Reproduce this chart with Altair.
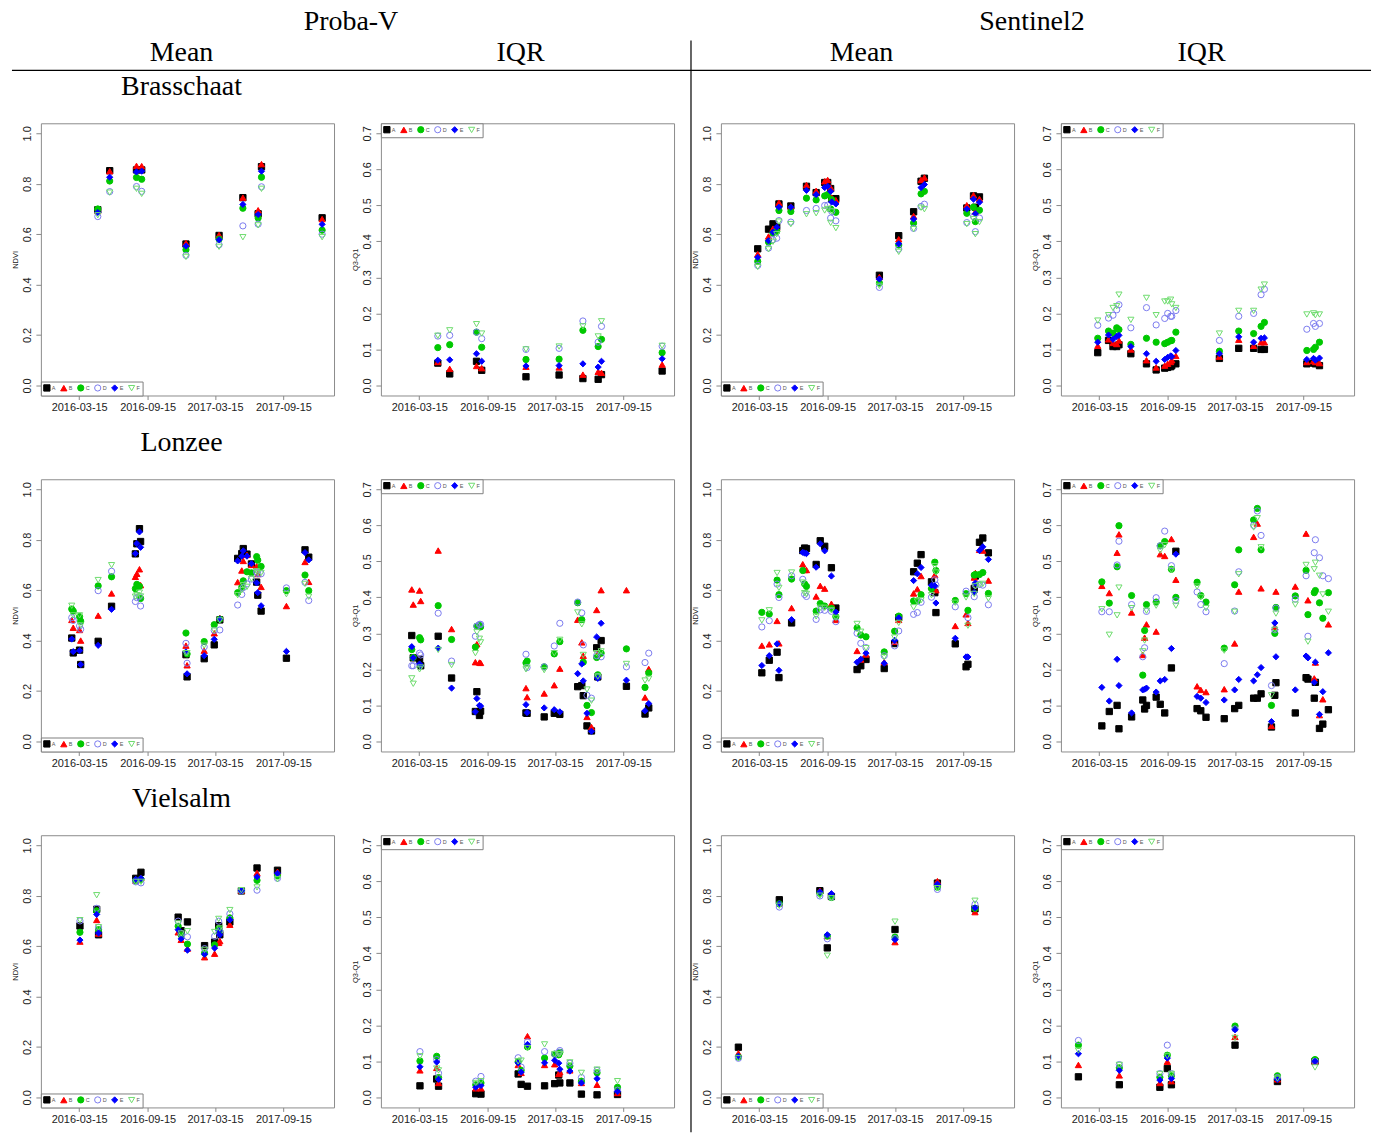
import altair as alt
import pandas as pd

# ---------------- series styling ----------------
SERIES = ["A", "B", "C", "D", "E", "F"]
STROKES = ["#000000", "#FF0000", "#00C800", "#7B7BEE", "#0000FF", "#6EDC6E"]
FILLS = ["#000000", "#FF0000", "#00C800", "transparent", "#0000FF", "transparent"]
SHAPES = ["square", "triangle-up", "circle", "circle", "diamond", "triangle-down"]
SIZES = [40, 38, 28, 36, 38, 50]

X_TICKS = ["2016-03-15", "2016-09-15", "2017-03-15", "2017-09-15"]
X_DOMAIN = ["2015-12-03", "2018-01-29"]
MEAN_TICKS = [0.0, 0.2, 0.4, 0.6, 0.8, 1.0]
IQR_TICKS = [0.0, 0.1, 0.2, 0.3, 0.4, 0.5, 0.6, 0.7]

# ---------------- Proba-V, Brasschaat ----------------
PV_BRA_DATES = ["2016-05-04", "2016-06-05", "2016-08-16", "2016-08-30", "2016-12-27",
                "2017-03-26", "2017-05-29", "2017-07-09", "2017-07-18", "2017-12-28"]
PV_BRA_MEAN = {
    "A": [0.697, 0.852, 0.855, 0.855, 0.561, 0.595, 0.745, 0.681, 0.868, 0.665],
    "B": [0.692, 0.850, 0.871, 0.870, 0.565, 0.597, 0.745, 0.695, 0.878, 0.660],
    "C": [0.700, 0.811, 0.825, 0.818, 0.538, 0.580, 0.703, 0.664, 0.826, 0.616],
    "D": [0.670, 0.769, 0.789, 0.770, 0.516, 0.558, 0.633, 0.640, 0.788, 0.600],
    "E": [0.686, 0.826, 0.847, 0.850, 0.553, 0.578, 0.718, 0.678, 0.850, 0.639],
    "F": [0.675, 0.765, 0.780, 0.760, 0.510, 0.550, 0.588, 0.635, 0.780, 0.588],
}
PV_BRA_IQR = {
    "A": [0.062, 0.032, 0.067, 0.042, 0.024, 0.029, 0.019, 0.017, 0.030, 0.040],
    "B": [0.065, 0.046, 0.054, 0.048, 0.052, 0.050, 0.030, 0.038, 0.035, 0.058],
    "C": [0.105, 0.113, 0.148, 0.106, 0.072, 0.073, 0.153, 0.108, 0.128, 0.091],
    "D": [0.137, 0.139, 0.148, 0.130, 0.100, 0.103, 0.179, 0.120, 0.164, 0.109],
    "E": [0.070, 0.071, 0.088, 0.067, 0.054, 0.055, 0.060, 0.051, 0.067, 0.074],
    "F": [0.138, 0.153, 0.170, 0.144, 0.100, 0.108, 0.164, 0.136, 0.178, 0.110],
}

# ---------------- Sentinel2, Brasschaat ----------------
S2_BRA_DATES = ["2016-03-11", "2016-04-09", "2016-04-21", "2016-05-01", "2016-05-07",
                "2016-06-08", "2016-07-20", "2016-08-15", "2016-09-07", "2016-09-15",
                "2016-09-23", "2016-09-26", "2016-10-07", "2017-02-01", "2017-03-25",
                "2017-05-04", "2017-05-24", "2017-06-02", "2017-09-24", "2017-10-12",
                "2017-10-17", "2017-10-28"]
S2_BRA_MEAN = {
    "A": [0.542, 0.620, 0.641, 0.630, 0.720, 0.712, 0.790, 0.765, 0.805, 0.805, 0.781,
          0.740, 0.741, 0.437, 0.594, 0.689, 0.810, 0.822, 0.704, 0.752, 0.707, 0.748],
    "B": [0.521, 0.591, 0.622, 0.625, 0.725, 0.710, 0.795, 0.772, 0.810, 0.815, 0.785,
          0.745, 0.735, 0.430, 0.580, 0.672, 0.815, 0.825, 0.715, 0.755, 0.690, 0.740],
    "C": [0.492, 0.569, 0.604, 0.611, 0.694, 0.690, 0.743, 0.736, 0.752, 0.757, 0.700,
          0.737, 0.687, 0.406, 0.557, 0.644, 0.760, 0.770, 0.683, 0.707, 0.650, 0.695],
    "D": [0.476, 0.545, 0.578, 0.584, 0.654, 0.648, 0.694, 0.702, 0.714, 0.715, 0.664,
          0.690, 0.653, 0.389, 0.541, 0.623, 0.710, 0.719, 0.646, 0.670, 0.610, 0.664],
    "E": [0.508, 0.574, 0.608, 0.628, 0.707, 0.707, 0.774, 0.757, 0.785, 0.790, 0.770,
          0.728, 0.720, 0.422, 0.562, 0.660, 0.785, 0.797, 0.700, 0.739, 0.681, 0.727],
    "F": [0.470, 0.540, 0.570, 0.600, 0.650, 0.640, 0.679, 0.683, 0.694, 0.700, 0.645,
          0.690, 0.624, 0.395, 0.530, 0.620, 0.705, 0.699, 0.640, 0.660, 0.600, 0.648],
}
S2_BRA_IQR = {
    "A": [0.091, 0.125, 0.108, 0.108, 0.113, 0.088, 0.060, 0.043, 0.048, 0.050, 0.052,
          0.055, 0.060, 0.075, 0.103, 0.103, 0.100, 0.100, 0.060, 0.062, 0.060, 0.055],
    "B": [0.110, 0.128, 0.118, 0.115, 0.125, 0.100, 0.070, 0.050, 0.055, 0.060, 0.065,
          0.070, 0.082, 0.080, 0.127, 0.110, 0.120, 0.120, 0.065, 0.068, 0.065, 0.062],
    "C": [0.131, 0.151, 0.145, 0.160, 0.155, 0.114, 0.131, 0.120, 0.116, 0.120, 0.124,
          0.125, 0.148, 0.095, 0.151, 0.144, 0.164, 0.175, 0.097, 0.100, 0.106, 0.120],
    "D": [0.167, 0.187, 0.195, 0.210, 0.224, 0.160, 0.216, 0.168, 0.186, 0.200, 0.192,
          0.192, 0.208, 0.125, 0.192, 0.200, 0.252, 0.267, 0.156, 0.172, 0.164, 0.172],
    "E": [0.120, 0.140, 0.128, 0.136, 0.139, 0.108, 0.088, 0.067, 0.072, 0.078, 0.082,
          0.080, 0.097, 0.088, 0.135, 0.120, 0.131, 0.132, 0.072, 0.075, 0.070, 0.076],
    "F": [0.180, 0.195, 0.215, 0.220, 0.252, 0.182, 0.243, 0.195, 0.233, 0.233, 0.238,
          0.225, 0.215, 0.144, 0.207, 0.207, 0.266, 0.280, 0.197, 0.200, 0.195, 0.197],
}

# ---------------- Proba-V, Lonzee ----------------
PV_LON_DATES = ["2016-02-24", "2016-02-28", "2016-03-16", "2016-03-19", "2016-05-05",
                "2016-06-10", "2016-08-13", "2016-08-17", "2016-08-24", "2016-08-27",
                "2016-12-27", "2016-12-30", "2017-02-14", "2017-03-13", "2017-03-28",
                "2017-05-15", "2017-05-26", "2017-05-30", "2017-06-09", "2017-06-21",
                "2017-07-05", "2017-07-08", "2017-07-17", "2017-09-23", "2017-11-12",
                "2017-11-22"]
PV_LON_MEAN = {
    "A": [0.410, 0.351, 0.362, 0.305, 0.397, 0.536, 0.744, 0.784, 0.844, 0.793, 0.344, 0.256, 0.328,
          0.383, 0.482, 0.726, 0.745, 0.765, 0.743, 0.704, 0.632, 0.580, 0.517, 0.330, 0.760, 0.731],
    "B": [0.482, 0.451, 0.442, 0.400, 0.499, 0.587, 0.653, 0.665, 0.683, 0.620, 0.380, 0.302, 0.360,
          0.429, 0.490, 0.632, 0.678, 0.716, 0.740, 0.700, 0.695, 0.664, 0.613, 0.537, 0.712, 0.633],
    "C": [0.525, 0.517, 0.495, 0.477, 0.617, 0.653, 0.606, 0.623, 0.615, 0.567, 0.430, 0.347, 0.396,
          0.463, 0.485, 0.590, 0.611, 0.637, 0.673, 0.669, 0.733, 0.719, 0.694, 0.598, 0.660, 0.598],
    "D": [0.491, 0.480, 0.458, 0.445, 0.598, 0.675, 0.555, 0.570, 0.575, 0.537, 0.389, 0.310, 0.375,
          0.440, 0.442, 0.541, 0.583, 0.610, 0.625, 0.644, 0.672, 0.665, 0.665, 0.609, 0.631, 0.559],
    "E": [0.406, 0.356, 0.360, 0.305, 0.381, 0.524, 0.745, 0.785, 0.831, 0.770, 0.355, 0.268, 0.340,
          0.405, 0.485, 0.716, 0.735, 0.756, 0.735, 0.705, 0.629, 0.590, 0.538, 0.357, 0.749, 0.720],
    "F": [0.538, 0.500, 0.500, 0.460, 0.640, 0.699, 0.574, 0.580, 0.590, 0.575, 0.350, 0.350, 0.380,
          0.440, 0.480, 0.580, 0.600, 0.620, 0.613, 0.645, 0.675, 0.668, 0.668, 0.584, 0.625, 0.574],
}
PV_LON_IQR = {
    "A": [0.294, 0.232, 0.228, 0.210, 0.292, 0.176, 0.083, 0.138, 0.072, 0.084, 0.079, 0.078, 0.068,
          0.078, 0.075, 0.152, 0.155, 0.127, 0.043, 0.029, 0.260, 0.179, 0.280, 0.153, 0.076, 0.093],
    "B": [0.422, 0.380, 0.419, 0.390, 0.530, 0.312, 0.220, 0.270, 0.219, 0.218, 0.148, 0.123, 0.133,
          0.156, 0.202, 0.338, 0.275, 0.238, 0.068, 0.040, 0.365, 0.242, 0.420, 0.420, 0.122, 0.201],
    "C": [0.255, 0.233, 0.288, 0.282, 0.377, 0.283, 0.262, 0.320, 0.322, 0.318, 0.218, 0.223, 0.207,
          0.243, 0.277, 0.385, 0.338, 0.220, 0.100, 0.080, 0.233, 0.185, 0.245, 0.257, 0.150, 0.190],
    "D": [0.210, 0.210, 0.245, 0.240, 0.356, 0.223, 0.292, 0.320, 0.325, 0.325, 0.242, 0.205, 0.207,
          0.265, 0.328, 0.387, 0.357, 0.268, 0.128, 0.120, 0.238, 0.180, 0.235, 0.207, 0.219, 0.245],
    "E": [0.263, 0.232, 0.215, 0.210, 0.259, 0.148, 0.082, 0.119, 0.100, 0.098, 0.102, 0.080, 0.093,
          0.088, 0.082, 0.188, 0.215, 0.168, 0.078, 0.028, 0.290, 0.175, 0.328, 0.170, 0.085, 0.105],
    "F": [0.175, 0.160, 0.200, 0.205, 0.254, 0.212, 0.245, 0.303, 0.285, 0.275, 0.200, 0.205, 0.198,
          0.245, 0.282, 0.358, 0.325, 0.240, 0.144, 0.113, 0.245, 0.180, 0.250, 0.215, 0.169, 0.174],
}

# ---------------- Sentinel2, Lonzee ----------------
S2_LON_DATES = ["2016-03-22", "2016-04-11", "2016-05-02", "2016-05-07", "2016-06-10",
                "2016-07-10", "2016-07-15", "2016-07-20", "2016-08-15", "2016-08-26",
                "2016-09-07", "2016-09-25", "2016-10-07", "2016-12-03", "2016-12-13",
                "2016-12-27", "2017-02-14", "2017-03-14", "2017-03-25", "2017-05-04",
                "2017-05-14", "2017-05-24", "2017-06-21", "2017-06-30", "2017-07-03",
                "2017-08-24", "2017-09-22", "2017-09-27", "2017-10-14", "2017-10-17",
                "2017-10-28", "2017-11-06", "2017-11-21"]
S2_LON_MEAN = {
    "A": [0.272, 0.322, 0.354, 0.253, 0.470, 0.757, 0.767, 0.765, 0.702, 0.796, 0.774,
          0.689, 0.529, 0.285, 0.300, 0.325, 0.289, 0.388, 0.491, 0.673, 0.707, 0.741,
          0.633, 0.590, 0.511, 0.387, 0.296, 0.306, 0.607, 0.656, 0.790, 0.807, 0.748],
    "B": [0.380, 0.385, 0.478, 0.389, 0.529, 0.703, 0.680, 0.680, 0.575, 0.617, 0.606,
          0.546, 0.482, 0.359, 0.325, 0.345, 0.315, 0.395, 0.482, 0.587, 0.604, 0.656,
          0.615, 0.660, 0.600, 0.458, 0.504, 0.470, 0.650, 0.668, 0.760, 0.757, 0.638],
    "C": [0.512, 0.505, 0.640, 0.582, 0.644, 0.678, 0.625, 0.615, 0.517, 0.547, 0.537,
          0.528, 0.495, 0.450, 0.422, 0.415, 0.355, 0.437, 0.497, 0.557, 0.557, 0.582,
          0.606, 0.711, 0.678, 0.559, 0.586, 0.520, 0.660, 0.662, 0.662, 0.670, 0.587],
    "D": [0.454, 0.479, 0.624, 0.571, 0.657, 0.643, 0.583, 0.575, 0.484, 0.522, 0.520,
          0.516, 0.475, 0.429, 0.389, 0.372, 0.340, 0.379, 0.438, 0.504, 0.511, 0.552,
          0.572, 0.641, 0.620, 0.534, 0.596, 0.491, 0.574, 0.620, 0.623, 0.620, 0.542],
    "E": [0.301, 0.340, 0.387, 0.282, 0.483, 0.750, 0.747, 0.745, 0.691, 0.784, 0.756,
          0.656, 0.513, 0.314, 0.326, 0.350, 0.310, 0.401, 0.490, 0.638, 0.665, 0.690,
          0.619, 0.617, 0.549, 0.409, 0.335, 0.335, 0.591, 0.628, 0.757, 0.772, 0.722],
    "F": [0.480, 0.520, 0.668, 0.609, 0.670, 0.630, 0.588, 0.585, 0.496, 0.530, 0.530,
          0.520, 0.490, 0.466, 0.435, 0.370, 0.335, 0.412, 0.470, 0.532, 0.555, 0.560,
          0.580, 0.695, 0.670, 0.550, 0.571, 0.459, 0.585, 0.615, 0.620, 0.625, 0.567],
}
S2_LON_IQR = {
    "A": [0.043, 0.083, 0.100, 0.035, 0.068, 0.115, 0.090, 0.100, 0.123, 0.103, 0.079,
          0.204, 0.528, 0.091, 0.085, 0.067, 0.063, 0.091, 0.100, 0.120, 0.120, 0.132,
          0.040, 0.128, 0.163, 0.079, 0.177, 0.173, 0.120, 0.164, 0.036, 0.048, 0.088],
    "B": [0.432, 0.412, 0.524, 0.575, 0.358, 0.240, 0.288, 0.325, 0.305, 0.520, 0.515,
          0.562, 0.449, 0.153, 0.143, 0.137, 0.145, 0.272, 0.416, 0.568, 0.605, 0.425,
          0.043, 0.318, 0.416, 0.430, 0.577, 0.392, 0.175, 0.219, 0.073, 0.117, 0.325],
    "C": [0.443, 0.384, 0.485, 0.599, 0.405, 0.184, 0.308, 0.380, 0.387, 0.543, 0.555,
          0.478, 0.400, 0.442, 0.405, 0.387, 0.259, 0.435, 0.532, 0.615, 0.647, 0.532,
          0.100, 0.300, 0.372, 0.404, 0.475, 0.352, 0.413, 0.419, 0.385, 0.342, 0.413],
    "D": [0.360, 0.360, 0.490, 0.556, 0.380, 0.235, 0.260, 0.361, 0.399, 0.543, 0.584,
          0.488, 0.391, 0.415, 0.380, 0.360, 0.216, 0.362, 0.471, 0.600, 0.640, 0.572,
          0.155, 0.310, 0.370, 0.395, 0.460, 0.292, 0.524, 0.560, 0.510, 0.460, 0.452],
    "E": [0.150, 0.112, 0.228, 0.155, 0.079, 0.143, 0.145, 0.148, 0.137, 0.168, 0.172,
          0.258, 0.520, 0.125, 0.120, 0.108, 0.115, 0.143, 0.172, 0.168, 0.185, 0.205,
          0.055, 0.329, 0.235, 0.143, 0.237, 0.232, 0.164, 0.220, 0.075, 0.138, 0.246],
    "F": [0.367, 0.296, 0.350, 0.427, 0.370, 0.250, 0.280, 0.363, 0.377, 0.530, 0.545,
          0.476, 0.377, 0.430, 0.400, 0.370, 0.252, 0.360, 0.464, 0.594, 0.620, 0.539,
          0.128, 0.310, 0.355, 0.380, 0.490, 0.277, 0.478, 0.496, 0.460, 0.408, 0.360],
}

# ---------------- Proba-V, Vielsalm ----------------
PV_VIE_DATES = ["2016-03-17", "2016-05-01", "2016-05-06", "2016-08-14", "2016-08-28",
                "2016-12-06", "2016-12-14", "2016-12-31", "2017-02-15", "2017-03-14",
                "2017-03-25", "2017-03-28", "2017-04-24", "2017-05-25", "2017-07-06",
                "2017-08-30"]
PV_VIE_MEAN = {
    "A": [0.680, 0.746, 0.645, 0.869, 0.893, 0.715, 0.661, 0.696, 0.602, 0.616, 0.681, 0.645, 0.696, 0.819, 0.910, 0.901],
    "B": [0.618, 0.704, 0.650, 0.860, 0.870, 0.655, 0.625, 0.590, 0.556, 0.570, 0.613, 0.620, 0.685, 0.820, 0.890, 0.895],
    "C": [0.655, 0.740, 0.665, 0.860, 0.865, 0.679, 0.644, 0.608, 0.572, 0.605, 0.669, 0.660, 0.712, 0.820, 0.861, 0.879],
    "D": [0.700, 0.750, 0.675, 0.855, 0.851, 0.699, 0.650, 0.637, 0.590, 0.639, 0.699, 0.660, 0.728, 0.820, 0.822, 0.869],
    "E": [0.624, 0.726, 0.652, 0.865, 0.869, 0.665, 0.629, 0.584, 0.568, 0.592, 0.661, 0.645, 0.704, 0.820, 0.875, 0.889],
    "F": [0.703, 0.802, 0.675, 0.855, 0.855, 0.690, 0.650, 0.659, 0.585, 0.656, 0.708, 0.670, 0.743, 0.822, 0.833, 0.865],
}
PV_VIE_IQR = {
    "A": [0.032, 0.051, 0.031, 0.010, 0.009, 0.065, 0.036, 0.031, 0.032, 0.038, 0.062, 0.040, 0.040, 0.009, 0.007, 0.008],
    "B": [0.075, 0.082, 0.040, 0.025, 0.025, 0.090, 0.068, 0.170, 0.090, 0.092, 0.065, 0.070, 0.075, 0.040, 0.035, 0.012],
    "C": [0.101, 0.114, 0.055, 0.035, 0.040, 0.099, 0.075, 0.140, 0.109, 0.120, 0.118, 0.125, 0.087, 0.045, 0.068, 0.028],
    "D": [0.127, 0.105, 0.067, 0.045, 0.058, 0.110, 0.084, 0.154, 0.127, 0.120, 0.125, 0.130, 0.095, 0.055, 0.075, 0.020],
    "E": [0.085, 0.098, 0.050, 0.028, 0.033, 0.096, 0.070, 0.147, 0.096, 0.103, 0.095, 0.078, 0.073, 0.040, 0.052, 0.016],
    "F": [0.114, 0.080, 0.075, 0.040, 0.045, 0.100, 0.102, 0.137, 0.147, 0.120, 0.120, 0.120, 0.097, 0.068, 0.077, 0.045],
}

# ---------------- Sentinel2, Vielsalm ----------------
S2_VIE_DATES = ["2016-01-19", "2016-05-08", "2016-08-25", "2016-09-14", "2016-09-25",
                "2017-03-15", "2017-07-07", "2017-10-16"]
S2_VIE_MEAN = {
    "A": [0.199, 0.784, 0.820, 0.593, 0.797, 0.666, 0.850, 0.748],
    "B": [0.175, 0.770, 0.820, 0.640, 0.800, 0.616, 0.858, 0.735],
    "C": [0.160, 0.768, 0.810, 0.640, 0.793, 0.636, 0.834, 0.750],
    "D": [0.155, 0.755, 0.799, 0.629, 0.795, 0.630, 0.825, 0.766],
    "E": [0.163, 0.768, 0.815, 0.645, 0.808, 0.626, 0.846, 0.752],
    "F": [0.155, 0.760, 0.800, 0.562, 0.790, 0.697, 0.830, 0.780],
}
S2_VIE_IQR = {
    "A": [0.057, 0.035, 0.028, 0.080, 0.035, 0.145, 0.044, 0.100],
    "B": [0.090, 0.061, 0.040, 0.099, 0.045, 0.168, 0.050, 0.100],
    "C": [0.145, 0.082, 0.056, 0.117, 0.060, 0.198, 0.060, 0.105],
    "D": [0.158, 0.091, 0.066, 0.145, 0.066, 0.190, 0.055, 0.100],
    "E": [0.121, 0.075, 0.048, 0.109, 0.052, 0.188, 0.050, 0.100],
    "F": [0.130, 0.090, 0.065, 0.115, 0.065, 0.165, 0.052, 0.083],
}

# ---------------- header texts ----------------
HEAD_TOP = ["Proba-V", "Sentinel2"]
HEAD_SUB = ["Mean", "IQR", "Mean", "IQR"]
SITES = ["Brasschaat", "Lonzee", "Vielsalm"]

SANS = "Liberation Sans"
SERIF = "Liberation Serif"
PANEL_W = 294
PANEL_H = 273


def dt(s):
    return alt.DateTime(year=int(s[:4]), month=int(s[5:7]), date=int(s[8:10]), utc=True)


def points(dates, vals, kind):
    rows = [{"date": d, "value": v, "s": s}
            for s in SERIES for d, v in zip(dates, vals[s])]
    df = pd.DataFrame(rows)
    is_mean = kind == "mean"
    leg = alt.Legend(title=None, orient="bottom-left" if is_mean else "top-left",
                     direction="horizontal", columns=6, offset=0, padding=2,
                     strokeColor="#808080", fillColor="#ffffff", cornerRadius=0,
                     labelFontSize=5.5, labelColor="#555555", labelFont=SANS,
                     labelOffset=1, symbolStrokeWidth=1,
                     columnPadding=2, rowPadding=0)
    x = alt.X("date:T",
              scale=alt.Scale(type="utc", domain=[dt(X_DOMAIN[0]), dt(X_DOMAIN[1])], nice=False),
              axis=alt.Axis(title=None, values=[dt(t) for t in X_TICKS], format="%Y-%m-%d",
                            grid=False, domain=False, tickSize=4, tickColor="#888888",
                            labelPadding=2, labelFontSize=11, labelFont=SANS,
                            labelColor="#222222", labelFlush=False, labelOverlap=False))
    y = alt.Y("value:Q",
              scale=alt.Scale(domain=[-0.04, 1.04] if is_mean else [-0.028, 0.728],
                              nice=False, zero=False),
              axis=alt.Axis(title="NDVI" if is_mean else "Q3-Q1",
                            values=MEAN_TICKS if is_mean else IQR_TICKS, format=".1f",
                            grid=False, domain=False, tickSize=5, tickColor="#888888",
                            labelAngle=270, labelAlign="center", labelBaseline="bottom",
                            labelPadding=3, labelFontSize=11, labelFont=SANS,
                            labelColor="#222222", labelFlush=False, labelOverlap=False,
                            titleFont=SANS, titleFontSize=7.5, titleFontWeight="normal",
                            titleColor="#222222", titlePadding=2))
    return alt.Chart(df).mark_point(opacity=1, strokeWidth=1).encode(
        x=x, y=y,
        shape=alt.Shape("s:N", scale=alt.Scale(domain=SERIES, range=SHAPES), legend=leg),
        fill=alt.Fill("s:N", scale=alt.Scale(domain=SERIES, range=FILLS), legend=leg),
        stroke=alt.Stroke("s:N", scale=alt.Scale(domain=SERIES, range=STROKES), legend=leg),
        size=alt.Size("s:N", scale=alt.Scale(domain=SERIES, range=SIZES), legend=leg),
    )


def htext(label, xpos, ypos):
    # annotation text placed relative to the first panel's plot origin
    return alt.Chart(pd.DataFrame({"t": [label]})).mark_text(
        font=SERIF, fontSize=28, color="black", align="center", baseline="alphabetic"
    ).encode(text="t:N", x=alt.value(xpos), y=alt.value(ypos))


one = pd.DataFrame({"k": [0]})


def header_layers():
    return [
        alt.Chart(one).mark_rule(strokeOpacity=0, strokeWidth=1).encode(
            x=alt.value(-29), x2=alt.value(1334), y=alt.value(-123)),
        htext(HEAD_TOP[0], 311, -94), htext(HEAD_TOP[1], 994, -94),
        htext(HEAD_SUB[0], 141, -62), htext(HEAD_SUB[1], 481, -62),
        htext(HEAD_SUB[2], 823, -62), htext(HEAD_SUB[3], 1164, -62),
        alt.Chart(one).mark_rule(color="black", strokeWidth=1.2).encode(
            x=alt.value(-29), x2=alt.value(1334), y=alt.value(-53)),
        alt.Chart(one).mark_rule(color="black", strokeWidth=1.2).encode(
            x=alt.value(652), y=alt.value(-83), y2=alt.value(1012)),
    ]


def first_panel(dates, vals, site, with_header=False):
    layers = [points(dates, vals, "mean"), htext(site, 141, -28)]
    if with_header:
        layers += header_layers()
    return alt.layer(*layers).properties(width=PANEL_W, height=PANEL_H)


def plain(dates, vals, kind):
    return points(dates, vals, kind).properties(width=PANEL_W, height=PANEL_H)


panels = [
    first_panel(PV_BRA_DATES, PV_BRA_MEAN, SITES[0], with_header=True),
    plain(PV_BRA_DATES, PV_BRA_IQR, "iqr"),
    plain(S2_BRA_DATES, S2_BRA_MEAN, "mean"),
    plain(S2_BRA_DATES, S2_BRA_IQR, "iqr"),
    first_panel(PV_LON_DATES, PV_LON_MEAN, SITES[1]),
    plain(PV_LON_DATES, PV_LON_IQR, "iqr"),
    plain(S2_LON_DATES, S2_LON_MEAN, "mean"),
    plain(S2_LON_DATES, S2_LON_IQR, "iqr"),
    first_panel(PV_VIE_DATES, PV_VIE_MEAN, SITES[2]),
    plain(PV_VIE_DATES, PV_VIE_IQR, "iqr"),
    plain(S2_VIE_DATES, S2_VIE_MEAN, "mean"),
    plain(S2_VIE_DATES, S2_VIE_IQR, "iqr"),
]

chart = (alt.concat(*panels, columns=4, spacing={"row": 84, "column": 47}, bounds="flush")
         .resolve_scale(x="independent", y="independent", shape="independent",
                        fill="independent", stroke="independent", size="independent")
         .resolve_axis(x="independent", y="independent")
         .resolve_legend(shape="independent", fill="independent",
                         stroke="independent", size="independent")
         .properties(padding={"left": 10, "top": -2, "right": 5, "bottom": 0})
         .configure(background="white")
         .configure_view(stroke="#8c8c8c", strokeWidth=1))

chart.save("out.html", embed_options={"renderer": "svg", "actions": False})
